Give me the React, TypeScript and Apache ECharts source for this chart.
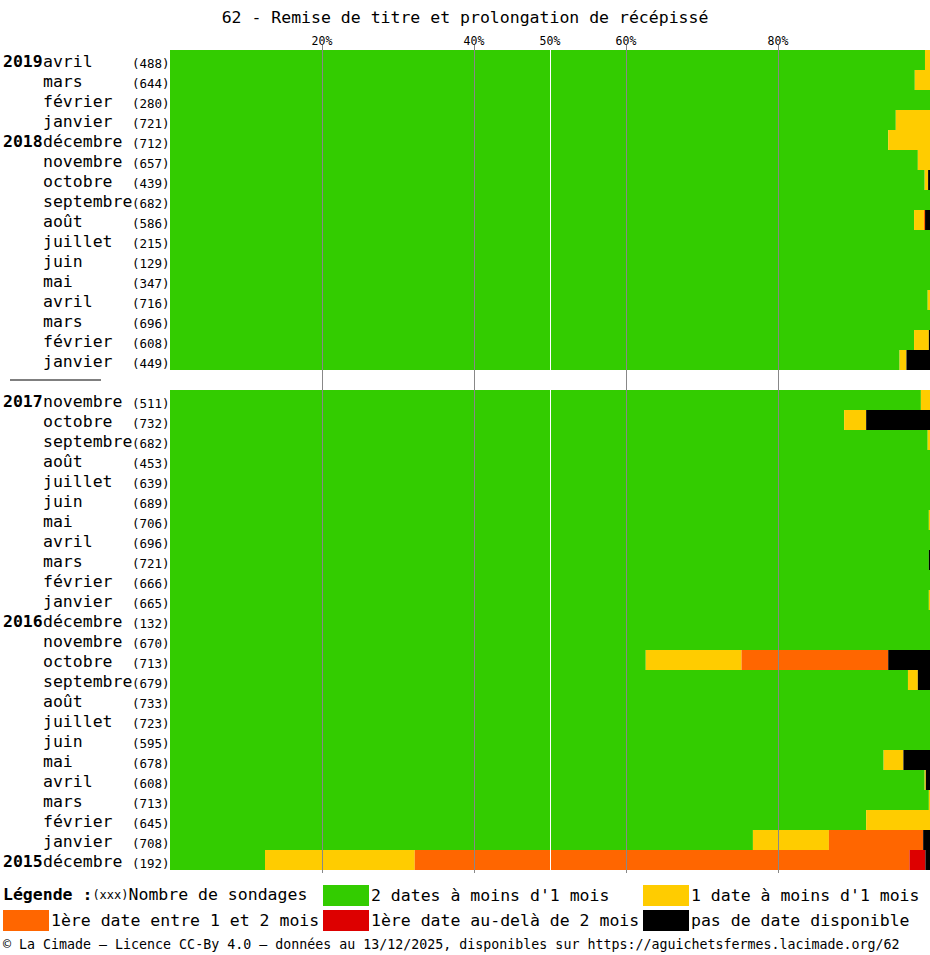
import React, { useEffect, useRef } from 'react';
import * as echarts from 'echarts';

const TITLE = '62 - Remise de titre et prolongation de récépissé';
const FOOTER = '© La Cimade — Licence CC-By 4.0 — données au 13/12/2025, disponibles sur https://aguichetsfermes.lacimade.org/62';
const tickValues = [20, 40, 50, 60, 80];
const greyTicks = [20, 40, 60, 80];
const whiteTicks = [50];

const years = ['2019', '', '', '', '2018', '', '', '', '', '', '', '', '', '', '', '', '',
  '2017', '', '', '', '', '', '', '', '', '', '', '2016', '', '', '', '', '', '', '', '', '', '', '', '2015'];
const months = ['avril', 'mars', 'février', 'janvier', 'décembre', 'novembre', 'octobre', 'septembre', 'août', 'juillet', 'juin', 'mai', 'avril', 'mars', 'février', 'janvier', '',
  'novembre', 'octobre', 'septembre', 'août', 'juillet', 'juin', 'mai', 'avril', 'mars', 'février', 'janvier',
  'décembre', 'novembre', 'octobre', 'septembre', 'août', 'juillet', 'juin', 'mai', 'avril', 'mars', 'février', 'janvier', 'décembre'];
const counts = [488, 644, 280, 721, 712, 657, 439, 682, 586, 215, 129, 347, 716, 696, 608, 449, null,
  511, 732, 682, 453, 639, 689, 706, 696, 721, 666, 665,
  132, 670, 713, 679, 733, 723, 595, 678, 608, 713, 645, 708, 192];

const seriesNames = ["2 dates à moins d'1 mois", "1 date à moins d'1 mois", '1ère date entre 1 et 2 mois', '1ère date au-delà de 2 mois', 'pas de date disponible'];
const seriesColors = ['#33cc00', '#ffcc00', '#ff6600', '#dd0000', '#000000'];

const green = [99.34, 98.0, 100, 95.5, 94.5, 98.4, 99.3, 100, 97.9, 100, 100, 100, 99.7, 100, 97.9, 96.0, null,
  98.8, 88.7, 99.7, 100, 100, 100, 99.85, 100, 99.85, 100, 99.85,
  100, 100, 62.6, 97.1, 100, 100, 100, 93.9, 99.3, 99.85, 91.6, 76.7, 12.5];
const yellow = [0.66, 2.0, 0, 4.5, 5.5, 1.6, 0.45, 0, 1.3, 0, 0, 0, 0.3, 0, 1.95, 0.9, null,
  1.2, 2.9, 0.3, 0, 0, 0, 0.15, 0, 0, 0, 0.15,
  0, 0, 12.6, 1.3, 0, 0, 0, 2.6, 0.15, 0.15, 8.4, 10.0, 19.7];
const orange = [0, 0, 0, 0, 0, 0, 0, 0, 0.15, 0, 0, 0, 0, 0, 0, 0, null,
  0, 0, 0, 0, 0, 0, 0, 0, 0, 0, 0,
  0, 0, 19.3, 0, 0, 0, 0, 0, 0, 0, 0, 12.4, 65.1];
const red = [0, 0, 0, 0, 0, 0, 0, 0, 0, 0, 0, 0, 0, 0, 0, 0, null,
  0, 0, 0, 0, 0, 0, 0, 0, 0, 0, 0,
  0, 0, 0, 0, 0, 0, 0, 0, 0, 0, 0, 0, 2.1];
const black = [0, 0, 0, 0, 0, 0, 0.25, 0, 0.65, 0, 0, 0, 0, 0, 0.15, 3.1, null,
  0, 8.4, 0, 0, 0, 0, 0, 0, 0.15, 0, 0,
  0, 0, 5.5, 1.6, 0, 0, 0, 3.5, 0.55, 0, 0, 0.9, 0.6];

const seriesData = [green, yellow, orange, red, black];
const legendLeft = [323, 643, 3, 323, 643];
const legendTop = [885, 885, 910, 910, 910];

const MONO = "'DejaVu Sans Mono', monospace";
const FS = 16.5;

export default function App() {
  const ref = useRef<HTMLDivElement>(null);
  useEffect(() => {
    if (!ref.current) return;
    const chart = echarts.init(ref.current, null, { renderer: 'svg' });
    const categories = months.map((_, i) => String(i));
    const option: any = {
      animation: false,
      backgroundColor: '#ffffff',
      title: [
        {
          text: TITLE, left: 'center', top: 9, padding: 0,
          textStyle: { fontFamily: MONO, fontSize: FS, fontWeight: 'normal', color: '#000' },
        },
        {
          text: '{b|Légende :}{s|(xxx)}{n|Nombre de sondages}', left: 3, top: 886, padding: 0,
          textStyle: {
            fontWeight: 'normal',
            rich: {
              b: { fontFamily: MONO, fontSize: FS, fontWeight: 'bold', color: '#000' },
              s: { fontFamily: MONO, fontSize: 12, fontWeight: 'normal', color: '#000' },
              n: { fontFamily: MONO, fontSize: FS, fontWeight: 'normal', color: '#000' },
            },
          },
        },
        {
          text: FOOTER, left: 3, top: 938, padding: 0,
          textStyle: { fontFamily: MONO, fontSize: 13.3, fontWeight: 'normal', color: '#000' },
        },
      ],
      legend: seriesNames.map((n, i) => ({
        data: [n], left: legendLeft[i], top: legendTop[i], padding: 0,
        itemWidth: 46, itemHeight: 21, itemGap: 0, icon: 'rect', selectedMode: false,
        textStyle: { fontFamily: MONO, fontSize: FS, color: '#000', padding: [0, 0, 0, -3] },
      })),
      grid: { left: 170, top: 50, width: 760, height: 820, containLabel: false },
      xAxis: [
        {
          type: 'value', position: 'top', min: 0, max: 100, z: 10,
          axisLine: { show: false },
          axisTick: { show: true, length: 5, customValues: greyTicks, lineStyle: { color: '#888888' } },
          axisLabel: {
            customValues: tickValues, margin: 3, formatter: (v: number) => v + '%',
            fontFamily: MONO, fontSize: 11.5, color: '#000',
          },
          splitLine: { show: true, lineStyle: { color: '#888888', width: 1 } },
        },
        {
          type: 'value', position: 'top', min: 0, max: 100, z: 10,
          axisLine: { show: false },
          axisTick: { show: true, length: 5, customValues: whiteTicks, lineStyle: { color: '#ffffff' } },
          axisLabel: { show: false },
          splitLine: { show: true, lineStyle: { color: '#ffffff', width: 1 } },
        },
        {
          type: 'value', position: 'bottom', min: 0, max: 100, z: 10,
          axisLine: { show: false },
          axisTick: { show: true, length: 3, customValues: greyTicks, lineStyle: { color: '#888888' } },
          axisLabel: { show: false },
          splitLine: { show: false },
        },
      ],
      yAxis: {
        type: 'category', inverse: true, data: categories,
        axisLine: { show: false }, axisTick: { show: false }, splitLine: { show: false },
        axisLabel: {
          align: 'left', margin: 167, interval: 0,
          formatter: (v: string) => {
            const i = Number(v);
            if (counts[i] === null) return '{pad| }{sep| }';
            return `{y|${years[i]}}{m|${months[i]}}{c|(${counts[i]})}`;
          },
          rich: {
            y: { fontFamily: MONO, fontSize: FS, fontWeight: 'bold', color: '#000', width: 40, lineHeight: 20, verticalAlign: 'bottom' },
            m: { fontFamily: MONO, fontSize: FS, color: '#000', width: 89, lineHeight: 20, verticalAlign: 'bottom' },
            c: { fontFamily: MONO, fontSize: 12.5, color: '#000', lineHeight: 17, verticalAlign: 'bottom' },
            pad: { width: 7, height: 1, fontSize: 1, lineHeight: 1 },
            sep: { width: 91, height: 1, fontSize: 1, lineHeight: 1, backgroundColor: '#000' },
          },
        },
      },
      series: seriesNames.map((n, i) => ({
        name: n, type: 'bar', stack: 'total', xAxisIndex: 0,
        data: seriesData[i], barCategoryGap: '0%', barGap: '0%',
        itemStyle: { color: seriesColors[i] }, silent: true,
        emphasis: { disabled: true },
      })),
    };
    chart.setOption(option);
    return () => chart.dispose();
  }, []);
  return <div ref={ref} style={{ position: 'absolute', left: 0, top: 0, width: 930, height: 955, background: '#fff' }} />;
}
